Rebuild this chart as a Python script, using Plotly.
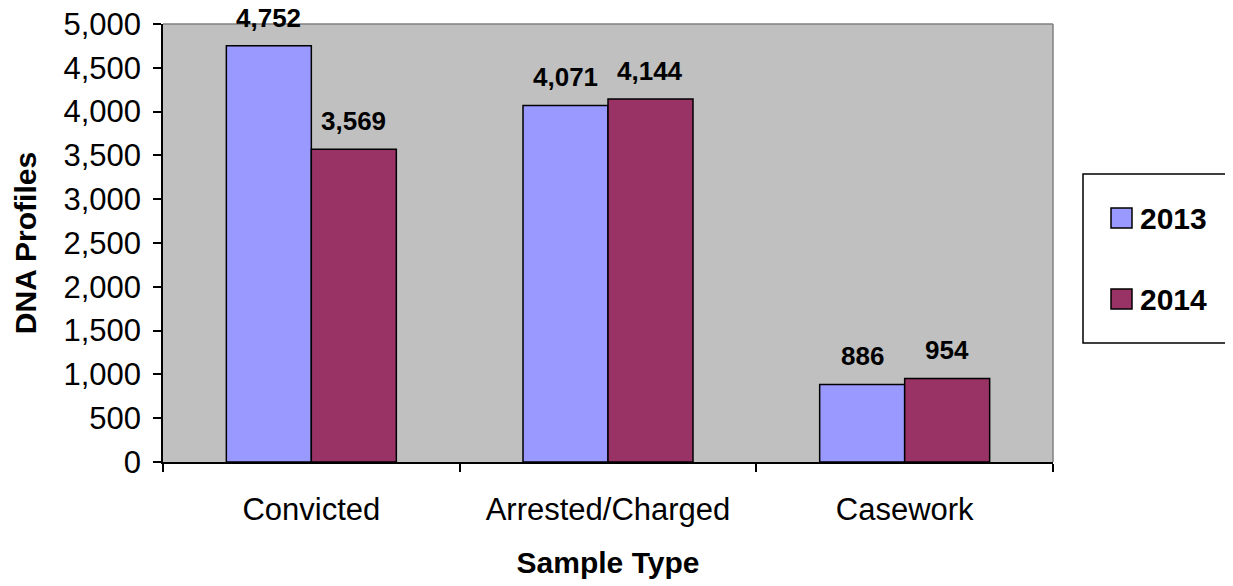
import plotly.graph_objects as go

categories = ["Convicted", "Arrested/Charged", "Casework"]
series_names = ["2013", "2014"]
values_2013 = [4752, 4071, 886]
values_2014 = [3569, 4144, 954]
colors = ["#9999FF", "#993366"]
y_ticks = list(range(0, 5001, 500))

font = "Liberation Sans, Arial, sans-serif"

# Page body adds an 8px margin; figure sized to compensate
W, H = 1225, 578
ML, MR, MT, MB = 155, 180, 16, 124
PW = W - ML - MR
PH = H - MT - MB
BARGAP = 0.427
bar_px = PW / len(categories) * (1 - BARGAP) / 2

fig = go.Figure()
for name, vals, col in zip(series_names, [values_2013, values_2014], colors):
    fig.add_trace(go.Bar(
        x=categories, y=vals, name=name,
        marker=dict(color=col, line=dict(color="black", width=1.5)),
        showlegend=False,
    ))

# data labels above bars
for i, (vals, sgn) in enumerate(zip([values_2013, values_2014], [-1, 1])):
    for c, v in zip(categories, vals):
        fig.add_annotation(x=c, y=v, text=f"<b>{v:,}</b>", showarrow=False,
                           xshift=sgn * bar_px / 2, yshift=11, yanchor="bottom",
                           font=dict(family=font, size=26, color="black"))

fig.update_layout(
    width=W, height=H,
    margin=dict(l=ML, r=MR, t=MT, b=MB, autoexpand=False),
    paper_bgcolor="white", plot_bgcolor="#C0C0C0",
    barmode="group", bargap=BARGAP, bargroupgap=0,
    font=dict(family=font, size=31, color="black"),
    xaxis=dict(
        title=dict(text="<b>Sample Type</b>", font=dict(size=30), standoff=26),
        ticks="outside", tickson="boundaries", ticklen=8, tickwidth=1.5, tickcolor="black",
        showline=True, linecolor="black", linewidth=1.5, showgrid=False,
        tickfont=dict(size=31), ticklabelstandoff=19, automargin=False,
    ),
    yaxis=dict(
        title=dict(text="<b>DNA Profiles</b>", font=dict(size=30), standoff=18),
        range=[0, 5000], tickvals=y_ticks, ticktext=[f"{v:,}" for v in y_ticks],
        ticks="outside", ticklen=8, tickwidth=1.5, tickcolor="black",
        showline=True, linecolor="black", linewidth=1.5, showgrid=False, zeroline=False,
        tickfont=dict(size=31), ticklabelstandoff=6, ticklabeloverflow="allow",
        automargin=False,
    ),
    showlegend=False,
)

# plot border (top/right gray)
fig.add_shape(type="line", xref="paper", yref="paper", x0=0, x1=1, y0=1, y1=1,
              line=dict(color="#808080", width=1.5))
fig.add_shape(type="line", xref="paper", yref="paper", x0=1, x1=1, y0=0, y1=1,
              line=dict(color="#808080", width=1.5))

# helpers: screen pixel -> paper coords
def px_x(px):
    return (px - 8 - ML) / PW

def px_y(py):
    return (H - MB + 8 - py) / PH

# legend drawn manually
fig.add_shape(type="rect", xref="paper", yref="paper",
              x0=px_x(1083), x1=px_x(1250), y0=px_y(343), y1=px_y(174),
              line=dict(color="black", width=1.5), fillcolor="white", layer="above")
for i, (name, col) in enumerate(zip(series_names, colors)):
    cy = 218 + i * 81
    fig.add_shape(type="rect", xref="paper", yref="paper",
                  x0=px_x(1111), x1=px_x(1132), y0=px_y(cy + 10), y1=px_y(cy - 10),
                  line=dict(color="black", width=1.5), fillcolor=col, layer="above")
    fig.add_annotation(xref="paper", yref="paper", x=px_x(1138), y=px_y(cy),
                       text=f"<b>{name}</b>", showarrow=False, xanchor="left", yanchor="middle",
                       font=dict(size=30, color="black"))

fig.write_html("out.html")
